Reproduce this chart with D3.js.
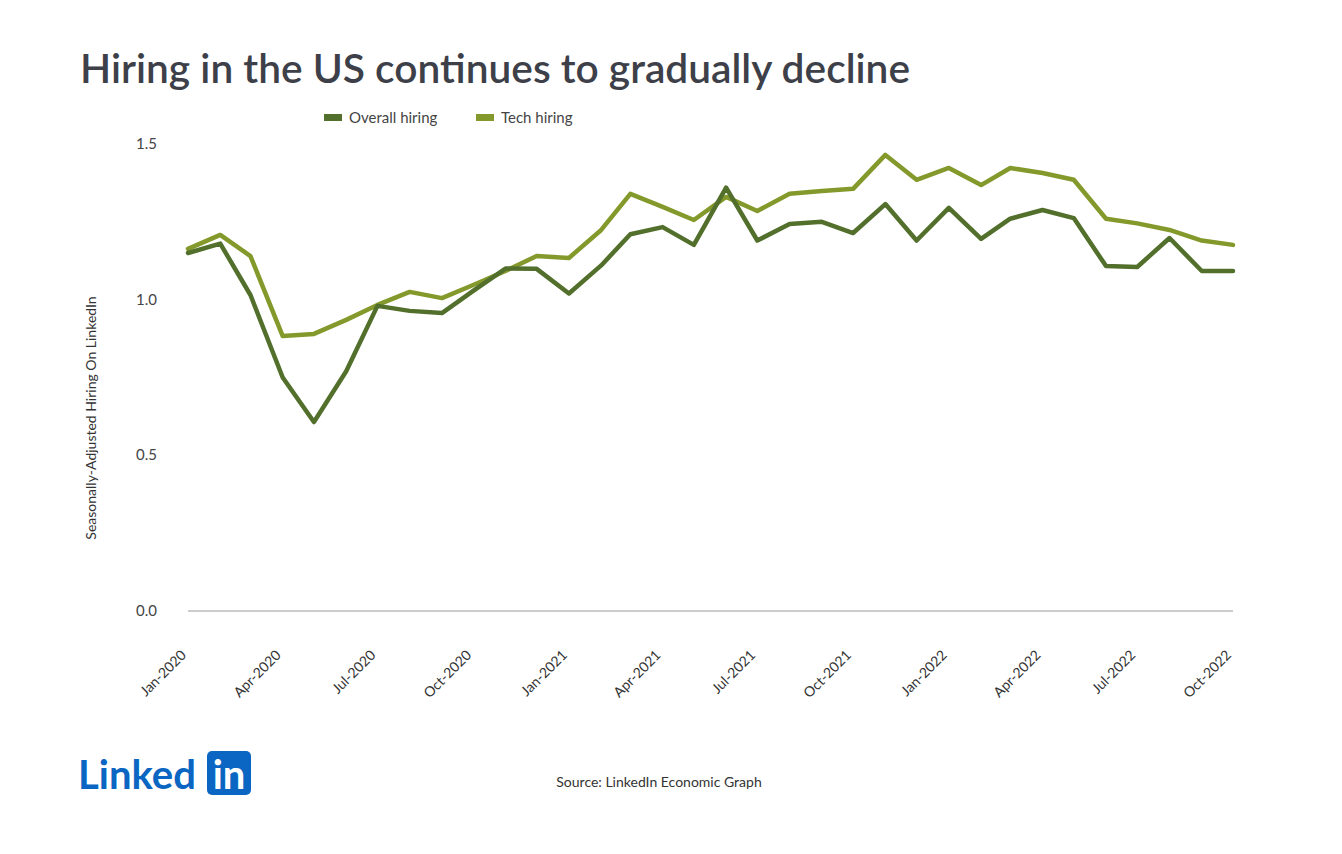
<!DOCTYPE html>
<html><head><meta charset="utf-8">
<script src="https://cdn.jsdelivr.net/npm/d3@7/dist/d3.min.js"></script>
<style>body{margin:0;background:#fff;font-family:Lato,"Open Sans",sans-serif;}</style>
</head><body><svg id="c" width="1342" height="854"></svg>
<script>
const months = d3.range(34).map(i => new Date(2020, i, 1));
const overall = [1.15,1.18,1.015,0.75,0.607,0.77,0.98,0.964,0.957,1.028,1.10,1.099,1.02,1.11,1.21,1.233,1.176,1.36,1.19,1.243,1.25,1.214,1.307,1.19,1.295,1.195,1.26,1.288,1.262,1.108,1.105,1.198,1.092,1.092];
const tech = [1.163,1.208,1.14,0.883,0.89,0.935,0.983,1.025,1.005,1.047,1.092,1.14,1.134,1.224,1.34,1.298,1.256,1.33,1.285,1.34,1.349,1.356,1.465,1.385,1.423,1.368,1.423,1.407,1.385,1.26,1.245,1.224,1.19,1.176];
const yTicks = [0, 0.5, 1.0, 1.5];
const xTickIdx = [0,3,6,9,12,15,18,21,24,27,30,33];
const fmt = d3.timeFormat("%b-%Y");

const svg = d3.select("#c");
const x = d3.scaleTime().domain([months[0], months[33]]).range([188, 1233]);
const y = d3.scaleLinear().domain([0, 1.5]).range([611, 144]);

svg.append("text").attr("x",80).attr("y",83).attr("font-size",40).attr("font-weight",600)
  .attr("fill","#3d4049").attr("textLength",830).attr("lengthAdjust","spacingAndGlyphs")
  .text("Hiring in the US continues to gradually decline");

yTicks.forEach(t => svg.append("text").attr("x",157).attr("y",y(t)+5).attr("text-anchor","end")
  .attr("font-size",15).attr("fill","#444").text(t.toFixed(1)));
svg.append("line").attr("x1",188).attr("x2",1233).attr("y1",y(0)).attr("y2",y(0)).attr("stroke","#999");
svg.append("text").attr("transform","translate(96,418) rotate(-90)").attr("text-anchor","middle")
  .attr("font-size",14).attr("fill","#333").text("Seasonally-Adjusted Hiring On LinkedIn");

xTickIdx.forEach(i => svg.append("text")
  .attr("transform",`translate(${x(months[i])-1},${y(0)+45}) rotate(-45)`)
  .attr("text-anchor","end").attr("font-size",14).attr("fill","#333").text(fmt(months[i])));

const line = d3.line().x((d,i)=>x(months[i])).y(d=>y(d));
svg.append("path").datum(tech).attr("d",line).attr("fill","none").attr("stroke","#84992b").attr("stroke-width",4.5).attr("stroke-linejoin","round").attr("stroke-linecap","round");
svg.append("path").datum(overall).attr("d",line).attr("fill","none").attr("stroke","#536f2c").attr("stroke-width",4.5).attr("stroke-linejoin","round").attr("stroke-linecap","round");

[["Overall hiring","#536f2c",324],["Tech hiring","#84992b",476]].forEach(([t,c,lx])=>{
  svg.append("rect").attr("x",lx).attr("y",114).attr("width",18).attr("height",7).attr("fill",c);
  svg.append("text").attr("x",lx+25).attr("y",123).attr("font-size",15).attr("fill","#444").text(t);
});

svg.append("text").attr("x",659).attr("y",787).attr("text-anchor","middle").attr("font-size",14).attr("fill","#333").text("Source: LinkedIn Economic Graph");

svg.append("text").attr("x",78).attr("y",789).attr("font-size",40).attr("font-weight",700).attr("fill","#0a66c2").text("Linked");
svg.append("rect").attr("x",207).attr("y",751).attr("width",44).attr("height",44).attr("rx",5).attr("fill","#0a66c2");
svg.append("text").attr("x",229).attr("y",789).attr("text-anchor","middle").attr("font-size",40).attr("font-weight",700).attr("fill","#fff").text("in");
</script></body></html>
